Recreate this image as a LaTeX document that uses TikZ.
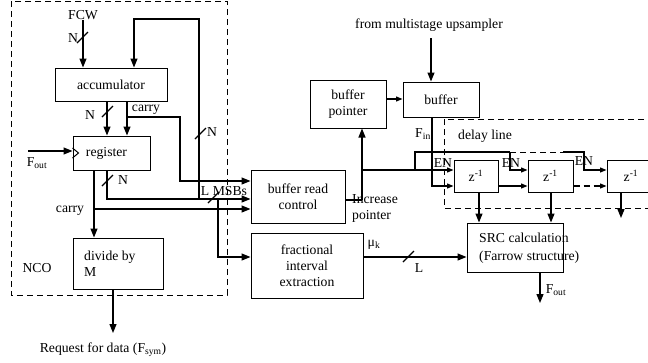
\documentclass[tikz,border=0pt]{standalone}
\usepackage{fontspec}
\setmainfont{Liberation Serif}
\usetikzlibrary{arrows.meta,calc}
\begin{document}
\begin{tikzpicture}[x=1pt,y=-1pt,
  font=\fontsize{13.7}{16}\selectfont,
  blk/.style={draw, line width=1pt, inner sep=1pt, align=center},
  lbl/.style={inner sep=0pt, align=left},
  ln/.style={line width=1.2pt},
  arr/.style={line width=1.2pt, -{Triangle[length=9pt,width=7pt]}},
  sarr/.style={line width=1.2pt, -{Triangle[length=6.5pt,width=5pt]}},
  dsh/.style={dash pattern=on 6pt off 4pt, line width=1pt}]
\useasboundingbox (0,0) rectangle (648,362);
\clip (0,0) rectangle (648,362);
% dashed frames
\draw[dsh] (11,1) rectangle (227,295);
\draw[dsh] (444,119) rectangle (660,208);
% blocks
\node[blk, minimum width=112pt, minimum height=33pt] (acc) at (111,84.5) {accumulator};
\node[blk, minimum width=77pt, minimum height=34pt] (reg) at (111.5,153) {register\hspace{10pt}};
\node[blk, minimum width=90pt, minimum height=51pt] (div) at (118,263.5) {};
\node[lbl, anchor=west] (divt) at (84,264) {divide by\\M};
\node[blk, minimum width=94pt, minimum height=53pt] (brc) at (298,196.5) {buffer read\\control};
\node[blk, minimum width=112pt, minimum height=65pt] (fie) at (307,265.5) {fractional\\interval\\extraction};
\node[blk, minimum width=76pt, minimum height=48pt] (bp) at (348,104) {buffer\\pointer};
\node[blk, minimum width=76pt, minimum height=35pt] (buf) at (441,99.5) {buffer};
\node[blk, minimum width=44pt, minimum height=32pt] (z1) at (476,176) {z\textsuperscript{-1}};
\node[blk, minimum width=45pt, minimum height=32pt] (z2) at (550.5,176) {z\textsuperscript{-1}};
\node[blk, minimum width=48pt, minimum height=32pt] (z3) at (631,176) {z\textsuperscript{-1}};
\node[blk, minimum width=96pt, minimum height=49pt] (src) at (515,247.5) {};
\node[lbl, anchor=west, font=\fontsize{13.7}{18}\selectfont] (srct) at (479,248) {SRC calculation\\(Farrow structure)};
% text labels
\node[lbl] (fcw) at (83,15) {FCW};
\node[lbl] (ups) at (429,25) {from multistage upsampler};
\node[lbl] (req) at (103,350) {Request for data (F\textsubscript{sym})};
\node[lbl] (nco) at (37,268) {NCO};
\node[lbl] (fout1) at (37,163) {F\textsubscript{out}};
\node[lbl] (fout2) at (556,290) {F\textsubscript{out}};
\node[lbl] (finl) at (423,134) {F\textsubscript{in}};
\node[lbl] (dll) at (485,136) {delay line};
\node[lbl] (en1) at (443,163) {EN};
\node[lbl] (en2) at (511,163) {EN};
\node[lbl] (en3) at (584,161) {EN};
\node[lbl] (muk) at (374,245) {μ\textsubscript{k}};
\node[lbl] (ll) at (419,268) {L};
\node[lbl, anchor=west] (incp) at (352,208.5) {Increase\\pointer};
\node[lbl] (lmsb) at (224,191) {L MSBs};
\node[lbl] (n1) at (73,38) {N};
\node[lbl] (n2) at (90,115) {N};
\node[lbl] (n3) at (212,132) {N};
\node[lbl] (n4) at (123,180) {N};
\node[lbl] (car1) at (146,110) {carry};
\node[lbl] (car2) at (70,211) {carry};
% coordinates
\coordinate (c83) at (83,0);
\coordinate (c107) at (107,0);
\coordinate (c127) at (127,0);
\coordinate (c94) at (94,0);
\coordinate (fbk) at (199,199);
\coordinate (fbt) at (134,19);
\coordinate (cb1) at (127,117);
\coordinate (cb2) at (180,181);
\coordinate (cb3) at (94,209);
\coordinate (cn) at (107,199);
\coordinate (lm) at (218,199);
\coordinate (lm2) at (218,257);
\coordinate (fin) at (28,151);
\coordinate (rq) at (113,333);
\coordinate (ip) at (362,200);
\coordinate (en0) at (362,170);
\coordinate (e1) at (415,170);
\coordinate (e2) at (415,152);
\coordinate (e3) at (510,152);
\coordinate (e4) at (510,170);
\coordinate (e5) at (563,152);
\coordinate (e6) at (584,152);
\coordinate (e7) at (584,170);
\coordinate (u1) at (431,38);
\coordinate (bpo) at (386,99);
\coordinate (f1) at (432,186);
\coordinate (k1) at (479,0);
\coordinate (k2) at (551,0);
\coordinate (k3) at (621,0);
\coordinate (k3e) at (621,218);
\coordinate (mu) at (363,257);
\coordinate (so) at (540,303);
% NCO connectors
\draw[arr] (fcw.south -| c83) -- (c83 |- acc.north);
\draw[arr] (fbk) |- (fbt) -- (fbt |- acc.north);
\draw[arr] (c107 |- acc.south) -- (c107 |- reg.north);
\draw[arr] (c127 |- acc.south) -- (c127 |- reg.north);
\draw[arr] (cb1) -| (cb2) -- (cb2 -| brc.west);
\draw[arr] (fin) -- (fin -| reg.west);
\draw[line width=1pt] ($(reg.west)+(0,-5)$) -- ($(reg.west)+(6,0)$) -- ($(reg.west)+(0,5)$);
\draw[arr] (c94 |- reg.south) -- (c94 |- div.north);
\draw[arr] (cb3) -- (cb3 -| brc.west);
\draw[arr] (c107 |- reg.south) -- (cn) -- (cn -| brc.west);
\draw[arr] (lm) -- (lm2) -- (lm2 -| fie.west);
\draw[arr] (rq |- div.south) -- (rq);
% bus slashes
\draw[ln] (77,43) -- (88,32);
\draw[ln] (102,117) -- (113,106);
\draw[ln] (102,186) -- (113,175);
\draw[ln] (195,139) -- (206,128);
\draw[ln] (208,203) -- (219,192);
\draw[ln] (403,262) -- (414,251);
% buffer side
\draw[ln] (ip -| brc.east) -- (ip);
\draw[arr] (ip) -- (ip |- bp.south);
\draw[sarr] (en0) -- (en0 -| z1.west);
\draw[ln] (e1) -- (e2) -- (e3);
\draw[sarr] (e3) -- (e4) -- (e4 -| z2.west);
\draw[dsh] (e3) -- (e5);
\draw[sarr] (e5) -- (e6) -- (e7) -- (e7 -| z3.west);
\draw[arr] (u1) -- (u1 |- buf.north);
\draw[sarr] (bpo) -- (bpo -| buf.west);
\draw[sarr] (f1 |- buf.south) -- (f1) -- (f1 -| z1.west);
\draw[sarr] (z1.east |- f1) -- (z2.west |- f1);
\draw[sarr, dash pattern=on 6pt off 4pt] (z2.east |- f1) -- (z3.west |- f1);
\draw[arr] (k1 |- z1.south) -- (k1 |- src.north);
\draw[arr] (k2 |- z2.south) -- (k2 |- src.north);
\draw[arr] (k3 |- z3.south) -- (k3e);
\draw[arr] (mu) -- (mu -| src.west);
\draw[arr] (so |- src.south) -- (so);
\end{tikzpicture}
\end{document}
